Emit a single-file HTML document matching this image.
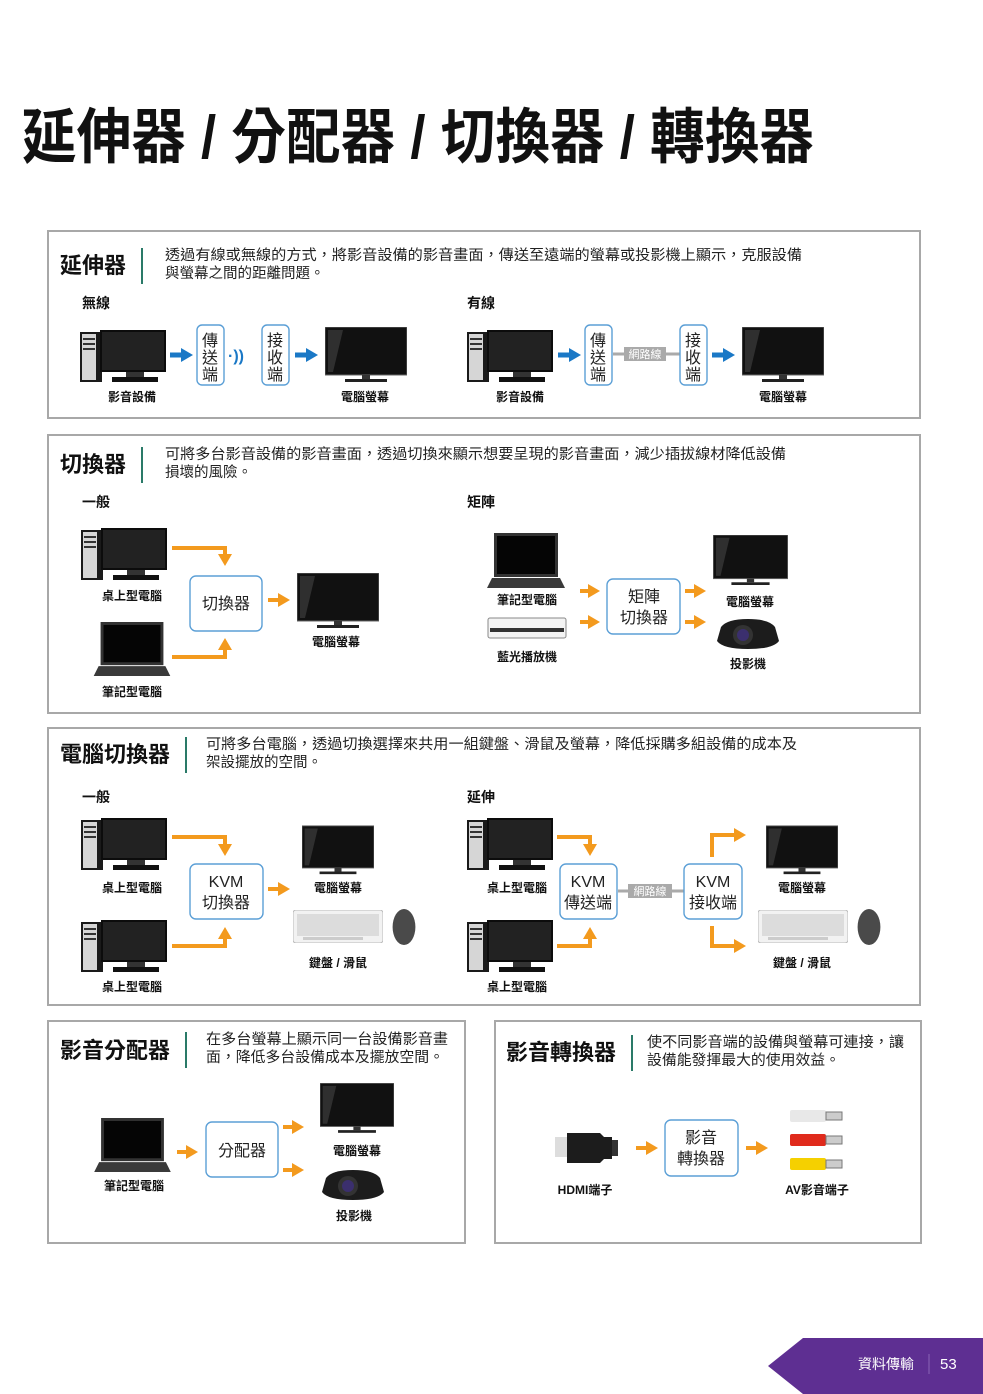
<!DOCTYPE html>
<html><head><meta charset="utf-8">
<style>
html,body{margin:0;padding:0;background:#fff;}
svg{display:block;}
text{font-family:"Liberation Sans","Noto Sans CJK TC",sans-serif;fill:#111;}
.h{font-size:22px;font-weight:bold;}
.d{font-size:14.5px;fill:#222;}
.s{font-size:14px;font-weight:bold;}
.l{font-size:12px;font-weight:bold;text-anchor:middle;}
.b{font-size:16px;text-anchor:middle;fill:#222;}
.panel{fill:#fff;stroke:#a8a8a8;stroke-width:2;}
.box{fill:#fff;stroke:#5b9fd6;stroke-width:1.4;}
.div{stroke:#2a7a68;stroke-width:2;}
.oa{stroke:#f39a1e;stroke-width:4;fill:none;}
.ba{stroke:#1a78c6;stroke-width:5;fill:none;}
.net{stroke:#aaa;stroke-width:3;}
</style></head><body>
<svg width="983" height="1394" viewBox="0 0 983 1394" xmlns="http://www.w3.org/2000/svg">
<defs>
<marker id="mo" markerUnits="userSpaceOnUse" markerWidth="12" markerHeight="14" refX="2" refY="7" orient="auto"><path d="M0,0 L12,7 L0,14 Z" fill="#f39a1e"/></marker>
<marker id="mb" markerUnits="userSpaceOnUse" markerWidth="12" markerHeight="14" refX="2" refY="7" orient="auto"><path d="M0,0 L12,7 L0,14 Z" fill="#1a78c6"/></marker>
<symbol id="pc" viewBox="0 0 86 52">
<rect x="0" y="2" width="22" height="50" fill="#1a1a1a"/>
<rect x="2" y="4" width="14" height="46" fill="#d6d6d6"/>
<rect x="3" y="8" width="12" height="2" fill="#333"/><rect x="3" y="13" width="12" height="2" fill="#333"/><rect x="3" y="18" width="12" height="2" fill="#333"/>
<rect x="20" y="0" width="66" height="42" fill="#0c0c0c"/>
<rect x="22" y="2" width="62" height="38" fill="#222"/>
<rect x="46" y="42" width="18" height="5" fill="#333"/>
<rect x="32" y="47" width="46" height="5" fill="#111"/>
</symbol>
<symbol id="mon" viewBox="0 0 82 55">
<rect x="0" y="0" width="82" height="48" fill="#111" stroke="#666" stroke-width="1"/>
<path d="M3,3 L18,3 L8,45 L3,45 Z" fill="#444" opacity="0.6"/>
<rect x="37" y="48" width="8" height="4" fill="#333"/>
<rect x="20" y="52" width="42" height="3" fill="#222"/>
</symbol>
<symbol id="lap" viewBox="0 0 78 55">
<rect x="7" y="0" width="64" height="44" fill="#333"/>
<rect x="10" y="3" width="58" height="38" fill="#050505"/>
<path d="M0,55 L78,55 L73,45 L5,45 Z" fill="#3a3a3a"/>
</symbol>
<symbol id="proj" viewBox="0 0 62 32">
<path d="M4,10 Q10,2 31,2 Q52,2 58,10 L62,24 Q56,32 31,32 Q6,32 0,24 Z" fill="#1c1c1c"/>
<circle cx="26" cy="18" r="10" fill="#333"/><circle cx="26" cy="18" r="6" fill="#3b2f6e"/>
</symbol>
<symbol id="kb" viewBox="0 0 90 33">
<rect x="0" y="0" width="90" height="33" rx="3" fill="#f2f2f2" stroke="#bbb"/>
<rect x="4" y="4" width="82" height="22" fill="#dcdcdc"/>
<rect x="10" y="27" width="60" height="3" fill="#ccc"/>
</symbol>
<symbol id="mouse" viewBox="0 0 28 40"><ellipse cx="14" cy="20" rx="12" ry="19" fill="#4a4a4a"/></symbol>
</defs>

<text x="22" y="158" font-size="60" font-weight="bold" textLength="792" lengthAdjust="spacingAndGlyphs">延伸器 / 分配器 / 切換器 / 轉換器</text>

<!-- Panel 1 -->
<rect class="panel" x="48" y="231" width="872" height="187"/>
<text class="h" x="60" y="273">延伸器</text>
<line class="div" x1="142" y1="248" x2="142" y2="284"/>
<text class="d" x="165" y="260" textLength="637" lengthAdjust="spacingAndGlyphs">透過有線或無線的方式，將影音設備的影音畫面，傳送至遠端的螢幕或投影機上顯示，克服設備</text>
<text class="d" x="165" y="278">與螢幕之間的距離問題。</text>
<text class="s" x="82" y="308">無線</text><text class="s" x="467" y="308">有線</text>
<use href="#pc" x="80" y="330" width="86" height="52"/>
<line class="ba" x1="170" y1="355" x2="183" y2="355" marker-end="url(#mb)"/>
<rect class="box" x="197" y="325" width="27" height="60" rx="5"/>
<text class="b" x="210" y="346">傳</text><text class="b" x="210" y="363">送</text><text class="b" x="210" y="380">端</text>
<text x="228" y="361" font-size="16" font-weight="bold" style="fill:#1a78c6">·))</text>
<rect class="box" x="262" y="325" width="27" height="60" rx="5"/>
<text class="b" x="275" y="346">接</text><text class="b" x="275" y="363">收</text><text class="b" x="275" y="380">端</text>
<line class="ba" x1="295" y1="355" x2="308" y2="355" marker-end="url(#mb)"/>
<use href="#mon" x="325" y="327" width="82" height="55"/>
<text class="l" x="132" y="401">影音設備</text><text class="l" x="365" y="401">電腦螢幕</text>
<use href="#pc" x="467" y="330" width="86" height="52"/>
<line class="ba" x1="558" y1="355" x2="571" y2="355" marker-end="url(#mb)"/>
<rect class="box" x="585" y="325" width="27" height="60" rx="5"/>
<text class="b" x="598" y="346">傳</text><text class="b" x="598" y="363">送</text><text class="b" x="598" y="380">端</text>
<line class="net" x1="613" y1="354" x2="680" y2="354"/>
<rect x="624" y="347" width="42" height="14" fill="#aaa"/>
<text x="645" y="358" font-size="11" text-anchor="middle" style="fill:#fff">網路線</text>
<rect class="box" x="680" y="325" width="27" height="60" rx="5"/>
<text class="b" x="693" y="346">接</text><text class="b" x="693" y="363">收</text><text class="b" x="693" y="380">端</text>
<line class="ba" x1="712" y1="355" x2="725" y2="355" marker-end="url(#mb)"/>
<use href="#mon" x="742" y="327" width="82" height="55"/>
<text class="l" x="520" y="401">影音設備</text><text class="l" x="783" y="401">電腦螢幕</text>

<!-- Panel 2 -->
<rect class="panel" x="48" y="435" width="872" height="278"/>
<text class="h" x="60" y="472">切換器</text>
<line class="div" x1="142" y1="447" x2="142" y2="483"/>
<text class="d" x="165" y="459" textLength="621" lengthAdjust="spacingAndGlyphs">可將多台影音設備的影音畫面，透過切換來顯示想要呈現的影音畫面，減少插拔線材降低設備</text>
<text class="d" x="165" y="477">損壞的風險。</text>
<text class="s" x="82" y="507">一般</text><text class="s" x="467" y="507">矩陣</text>
<use href="#pc" x="80" y="528" width="88" height="52"/>
<text class="l" x="132" y="600">桌上型電腦</text>
<use href="#lap" x="93" y="622" width="78" height="54"/>
<text class="l" x="132" y="696">筆記型電腦</text>
<path class="oa" d="M172,548 L225,548 L225,556" marker-end="url(#mo)"/>
<path class="oa" d="M172,657 L225,657 L225,648" marker-end="url(#mo)"/>
<rect class="box" x="190" y="576" width="72" height="55" rx="6"/>
<text class="b" x="226" y="609">切換器</text>
<line class="oa" x1="268" y1="600" x2="280" y2="600" marker-end="url(#mo)"/>
<use href="#mon" x="297" y="573" width="82" height="55"/>
<text class="l" x="336" y="646">電腦螢幕</text>
<use href="#lap" x="487" y="533" width="78" height="55"/>
<text class="l" x="527" y="604">筆記型電腦</text>
<rect x="488" y="618" width="78" height="20" rx="2" fill="#f4f4f4" stroke="#888"/>
<rect x="490" y="628" width="74" height="4" fill="#333"/>
<text class="l" x="527" y="661">藍光播放機</text>
<line class="oa" x1="580" y1="591" x2="590" y2="591" marker-end="url(#mo)"/>
<line class="oa" x1="580" y1="622" x2="590" y2="622" marker-end="url(#mo)"/>
<rect class="box" x="607" y="579" width="73" height="55" rx="6"/>
<text class="b" x="644" y="602">矩陣</text><text class="b" x="644" y="623">切換器</text>
<line class="oa" x1="685" y1="591" x2="696" y2="591" marker-end="url(#mo)"/>
<line class="oa" x1="685" y1="622" x2="696" y2="622" marker-end="url(#mo)"/>
<use href="#mon" x="713" y="535" width="75" height="50"/>
<text class="l" x="750" y="606">電腦螢幕</text>
<use href="#proj" x="717" y="617" width="62" height="32"/>
<text class="l" x="748" y="668">投影機</text>

<!-- Panel 3 -->
<rect class="panel" x="48" y="728" width="872" height="277"/>
<text class="h" x="60" y="762">電腦切換器</text>
<line class="div" x1="186" y1="737" x2="186" y2="773"/>
<text class="d" x="206" y="749" textLength="591" lengthAdjust="spacingAndGlyphs">可將多台電腦，透過切換選擇來共用一組鍵盤、滑鼠及螢幕，降低採購多組設備的成本及</text>
<text class="d" x="206" y="767">架設擺放的空間。</text>
<text class="s" x="82" y="802">一般</text><text class="s" x="467" y="802">延伸</text>
<use href="#pc" x="80" y="818" width="88" height="52"/>
<text class="l" x="132" y="892">桌上型電腦</text>
<use href="#pc" x="80" y="920" width="88" height="52"/>
<text class="l" x="132" y="991">桌上型電腦</text>
<path class="oa" d="M172,837 L225,837 L225,846" marker-end="url(#mo)"/>
<path class="oa" d="M172,946 L225,946 L225,937" marker-end="url(#mo)"/>
<rect class="box" x="190" y="864" width="73" height="55" rx="6"/>
<text class="b" x="226" y="887">KVM</text><text class="b" x="226" y="908">切換器</text>
<line class="oa" x1="268" y1="889" x2="280" y2="889" marker-end="url(#mo)"/>
<use href="#mon" x="302" y="825" width="72" height="50"/>
<text class="l" x="338" y="892">電腦螢幕</text>
<use href="#kb" x="293" y="910" width="90" height="33"/>
<use href="#mouse" x="390" y="908" width="28" height="38"/>
<text class="l" x="338" y="967">鍵盤 / 滑鼠</text>
<use href="#pc" x="466" y="818" width="88" height="52"/>
<text class="l" x="517" y="892">桌上型電腦</text>
<use href="#pc" x="466" y="920" width="88" height="52"/>
<text class="l" x="517" y="991">桌上型電腦</text>
<path class="oa" d="M557,837 L590,837 L590,846" marker-end="url(#mo)"/>
<path class="oa" d="M557,946 L590,946 L590,937" marker-end="url(#mo)"/>
<rect class="box" x="560" y="864" width="57" height="55" rx="6"/>
<text class="b" x="588" y="887">KVM</text><text class="b" x="588" y="908">傳送端</text>
<line class="net" x1="618" y1="891" x2="684" y2="891"/>
<rect x="628" y="884" width="44" height="14" fill="#aaa"/>
<text x="650" y="895" font-size="11" text-anchor="middle" style="fill:#fff">網路線</text>
<rect class="box" x="684" y="864" width="58" height="55" rx="6"/>
<text class="b" x="713" y="887">KVM</text><text class="b" x="713" y="908">接收端</text>
<path class="oa" d="M712,857 L712,835 L736,835" marker-end="url(#mo)"/>
<path class="oa" d="M712,926 L712,946 L736,946" marker-end="url(#mo)"/>
<use href="#mon" x="766" y="825" width="72" height="50"/>
<text class="l" x="802" y="892">電腦螢幕</text>
<use href="#kb" x="758" y="910" width="90" height="33"/>
<use href="#mouse" x="855" y="908" width="28" height="38"/>
<text class="l" x="802" y="967">鍵盤 / 滑鼠</text>

<!-- Panel 4 -->
<rect class="panel" x="48" y="1021" width="417" height="222"/>
<text class="h" x="60" y="1058">影音分配器</text>
<line class="div" x1="186" y1="1032" x2="186" y2="1068"/>
<text class="d" x="206" y="1044" textLength="242" lengthAdjust="spacingAndGlyphs">在多台螢幕上顯示同一台設備影音畫</text>
<text class="d" x="206" y="1062" textLength="238" lengthAdjust="spacingAndGlyphs">面，降低多台設備成本及擺放空間。</text>
<use href="#lap" x="93" y="1118" width="79" height="54"/>
<text class="l" x="134" y="1190">筆記型電腦</text>
<line class="oa" x1="177" y1="1152" x2="188" y2="1152" marker-end="url(#mo)"/>
<rect class="box" x="206" y="1122" width="72" height="55" rx="6"/>
<text class="b" x="242" y="1156">分配器</text>
<line class="oa" x1="283" y1="1127" x2="294" y2="1127" marker-end="url(#mo)"/>
<line class="oa" x1="283" y1="1170" x2="294" y2="1170" marker-end="url(#mo)"/>
<use href="#mon" x="320" y="1083" width="74" height="50"/>
<text class="l" x="357" y="1155">電腦螢幕</text>
<use href="#proj" x="322" y="1168" width="62" height="32"/>
<text class="l" x="354" y="1220">投影機</text>

<!-- Panel 5 -->
<rect class="panel" x="495" y="1021" width="426" height="222"/>
<text class="h" x="506" y="1060">影音轉換器</text>
<line class="div" x1="632" y1="1035" x2="632" y2="1071"/>
<text class="d" x="647" y="1047" textLength="257" lengthAdjust="spacingAndGlyphs">使不同影音端的設備與螢幕可連接，讓</text>
<text class="d" x="647" y="1065" textLength="193" lengthAdjust="spacingAndGlyphs">設備能發揮最大的使用效益。</text>
<rect x="555" y="1137" width="14" height="20" fill="#ddd"/>
<path d="M567,1133 L600,1133 L604,1137 L612,1137 L612,1159 L604,1159 L600,1163 L567,1163 Z" fill="#1c1c1c"/>
<rect x="612" y="1140" width="6" height="16" fill="#333"/>
<line class="oa" x1="636" y1="1148" x2="648" y2="1148" marker-end="url(#mo)"/>
<rect class="box" x="665" y="1120" width="73" height="56" rx="6"/>
<text class="b" x="701" y="1143">影音</text><text class="b" x="701" y="1164">轉換器</text>
<line class="oa" x1="746" y1="1148" x2="758" y2="1148" marker-end="url(#mo)"/>
<rect x="790" y="1110" width="36" height="12" rx="2" fill="#e8e8e8"/><rect x="826" y="1112" width="16" height="8" fill="#ccc" stroke="#777"/>
<rect x="790" y="1134" width="36" height="12" rx="2" fill="#e02a1c"/><rect x="826" y="1136" width="16" height="8" fill="#ccc" stroke="#777"/>
<rect x="790" y="1158" width="36" height="12" rx="2" fill="#f5d000"/><rect x="826" y="1160" width="16" height="8" fill="#ccc" stroke="#777"/>
<text class="l" x="585" y="1194">HDMI端子</text>
<text class="l" x="817" y="1194">AV影音端子</text>

<!-- footer -->
<polygon points="768,1366 803,1338 983,1338 983,1394 803,1394" fill="#5e2f92"/>
<text x="858" y="1369" font-size="14" style="fill:#fff">資料傳輸</text>
<line x1="929" y1="1354" x2="929" y2="1374" stroke="#8a64b5" stroke-width="1"/>
<text x="940" y="1369" font-size="15" style="fill:#fff">53</text>
</svg>
</body></html>
